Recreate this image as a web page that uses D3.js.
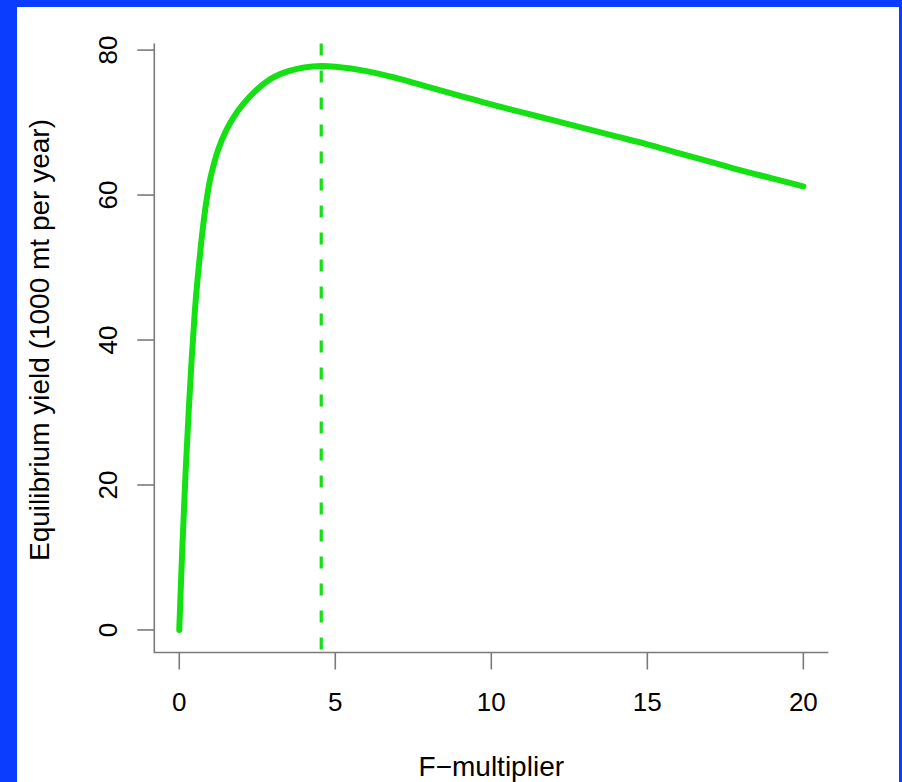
<!DOCTYPE html>
<html>
<head>
<meta charset="utf-8">
<script src="https://cdn.jsdelivr.net/npm/d3@7"></script>
<style>
  html, body { margin: 0; padding: 0; background: #0a3dff; }
  svg { display: block; }
</style>
</head>
<body>
<svg id="chart" width="902" height="782"></svg>
<script>
// F-multiplier values
const fMultiplier = [0, 0.1, 0.2, 0.3, 0.4, 0.5, 0.6, 0.7, 0.8, 0.9, 1.0, 1.25, 1.5, 1.75, 2.0, 2.5, 3.0, 3.5, 4.0, 4.55, 5.0, 6, 7, 8, 9, 10, 11, 12, 13, 14, 15, 16, 17, 18, 19, 20];
// Equilibrium yield (1000 mt per year)
const equilibriumYield = [0, 11.5, 21.5, 30, 37.5, 44, 49, 53.3, 57, 60, 62.4, 66.3, 68.9, 70.8, 72.3, 74.6, 76.2, 77.1, 77.6, 77.8, 77.7, 77.1, 76.1, 74.9, 73.7, 72.5, 71.4, 70.3, 69.2, 68.1, 67.0, 65.8, 64.6, 63.4, 62.3, 61.2];
// F at maximum yield (dashed reference line)
const fMsy = [4.55];
const xTicks = [0, 5, 10, 15, 20];
const yTicks = [0, 20, 40, 60, 80];
const xTitle = "F\u2212multiplier";
const yTitle = "Equilibrium yield (1000 mt per year)";

const svg = d3.select("#chart");
const green = "#14e014";
const axisColor = "#7a7a7a";
const font = "'Liberation Sans', Arial, Helvetica, sans-serif";

// white panel
svg.append("rect").attr("x", 17).attr("y", 7).attr("width", 882).attr("height", 775).attr("fill", "#ffffff");

// R-style 4% padded domains
const xExt = d3.extent(fMultiplier), yExt = d3.extent(equilibriumYield);
const xPad = (xExt[1] - xExt[0]) * 0.04, yPad = (yExt[1] - yExt[0]) * 0.04;
const x = d3.scaleLinear().domain([xExt[0] - xPad, xExt[1] + xPad]).range([154.3, 828.3]);
const y = d3.scaleLinear().domain([yExt[0] - yPad, yExt[1] + yPad]).range([652.5, 43.5]);

const [x0, x1] = x.range();
const [yb, yt] = y.range();

// L-shaped box
svg.append("path")
  .attr("d", `M${x0},${yt} L${x0},${yb} L${x1},${yb}`)
  .attr("fill", "none").attr("stroke", axisColor).attr("stroke-width", 1.6);

// x axis ticks
const tickLen = 17;
const xg = svg.append("g");
xg.selectAll("line").data(xTicks).join("line")
  .attr("x1", d => x(d)).attr("x2", d => x(d))
  .attr("y1", yb).attr("y2", yb + tickLen)
  .attr("stroke", axisColor).attr("stroke-width", 1.6);
xg.selectAll("text").data(xTicks).join("text")
  .attr("x", d => x(d)).attr("y", 711)
  .attr("text-anchor", "middle")
  .attr("font-family", font).attr("font-size", 26).attr("fill", "#000")
  .text(d => d);

// y axis ticks
const yg = svg.append("g");
yg.selectAll("line").data(yTicks).join("line")
  .attr("x1", x0 - tickLen).attr("x2", x0)
  .attr("y1", d => y(d)).attr("y2", d => y(d))
  .attr("stroke", axisColor).attr("stroke-width", 1.6);
yg.selectAll("text").data(yTicks).join("text")
  .attr("transform", d => `translate(117,${y(d)}) rotate(-90)`)
  .attr("text-anchor", "middle")
  .attr("font-family", font).attr("font-size", 26).attr("fill", "#000")
  .text(d => d);

// titles
svg.append("text")
  .attr("x", (x0 + x1) / 2).attr("y", 776)
  .attr("text-anchor", "middle")
  .attr("font-family", font).attr("font-size", 28).attr("fill", "#000")
  .text(xTitle);
svg.append("text")
  .attr("transform", `translate(49,${(yb + yt) / 2 - 8}) rotate(-90)`)
  .attr("text-anchor", "middle")
  .attr("font-family", font).attr("font-size", 28).attr("fill", "#000")
  .text(yTitle);

// dashed vertical line at F of max yield
svg.selectAll("line.fmsy").data(fMsy).join("line")
  .attr("class", "fmsy")
  .attr("x1", d => x(d)).attr("x2", d => x(d))
  .attr("y1", yt).attr("y2", yb)
  .attr("stroke", green).attr("stroke-width", 3.2)
  .attr("stroke-dasharray", "12,15");

// yield curve
const pts = fMultiplier.map((f, i) => [f, equilibriumYield[i]]);
svg.append("path")
  .datum(pts)
  .attr("d", d3.line().x(d => x(d[0])).y(d => y(d[1])).curve(d3.curveCatmullRom.alpha(0.5)))
  .attr("fill", "none").attr("stroke", green).attr("stroke-width", 6)
  .attr("stroke-linecap", "round").attr("stroke-linejoin", "round");
</script>
</body>
</html>
